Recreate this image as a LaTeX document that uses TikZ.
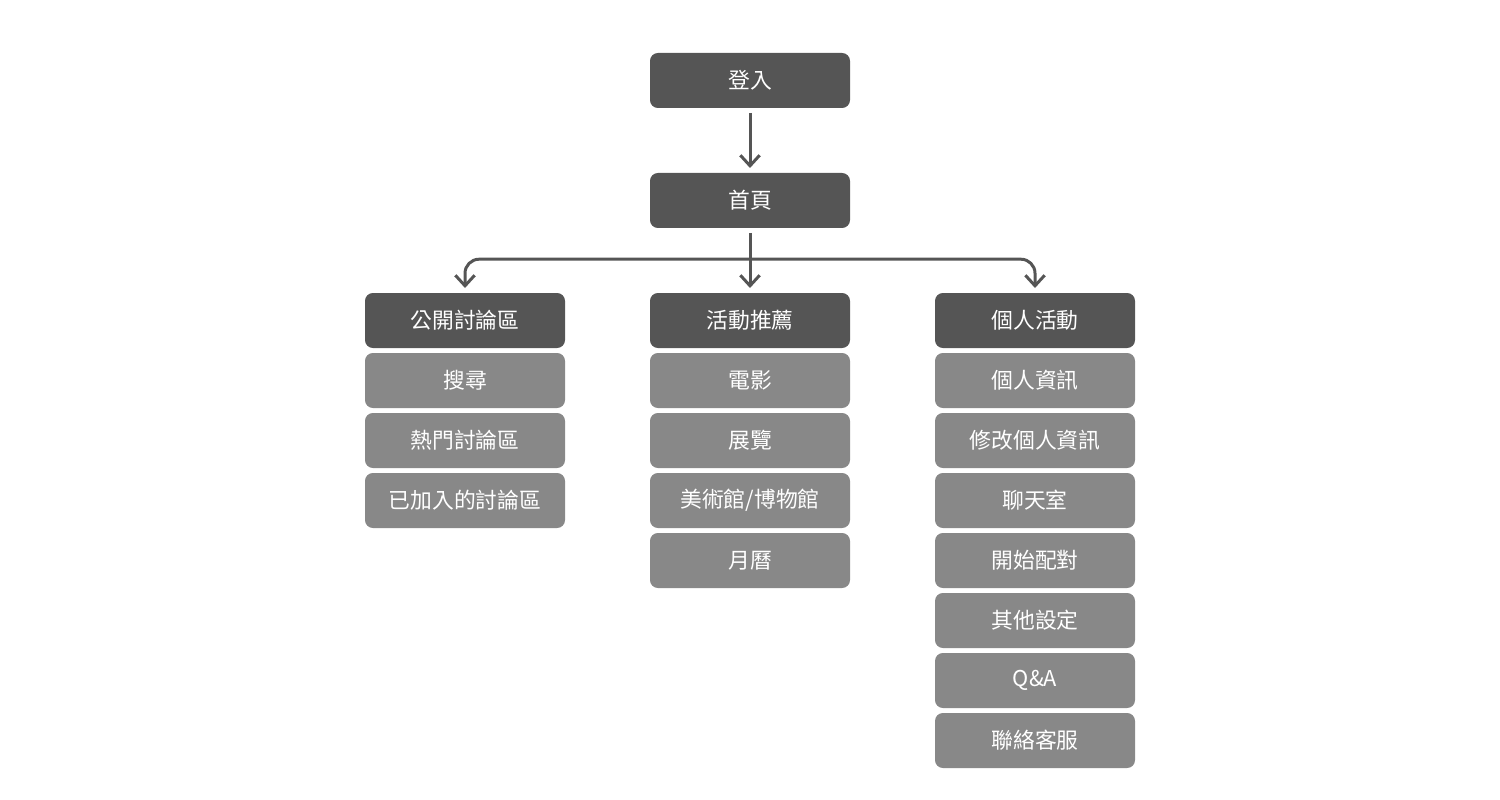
\documentclass[tikz,border=0pt]{standalone}
\usepackage{fontspec}
\setmainfont{Noto Sans CJK TC}
\usepackage{tikz}
\usetikzlibrary{positioning,arrows.meta,calc}
\definecolor{dark1}{HTML}{555555}
\definecolor{light1}{HTML}{888888}
\begin{document}
\begin{tikzpicture}[
    mbox/.style={rounded corners=4.5pt, minimum width=4cm, minimum height=1.1cm,
                 inner sep=0pt, outer sep=0pt, text=white,
                 font=\fontsize{12.4}{14}\selectfont},
    head/.style={mbox, fill=dark1},
    item/.style={mbox, fill=light1},
    arr/.style={-{Straight Barb[length=6pt,width=11pt]}, line width=1.7pt, draw=dark1,
                shorten <=0.1cm, shorten >=0.1cm},
]
\useasboundingbox (0,0) rectangle (30,-16);
\node[head] (login) at (15,-1.61) {登入};
\node[head, below=1.3cm of login] (home) {首頁};
\node[head, below=1.3cm of home] (act) {活動推薦};
\node[head, left=1.7cm of act] (pub) {公開討論區};
\node[head, right=1.7cm of act] (own) {個人活動};

% public forum
\node[item, below=0.1cm of pub] (search) {搜尋};
\node[item, below=0.1cm of search] (hot) {熱門討論區};
\node[item, below=0.1cm of hot] (joined) {已加入的討論區};

% events
\node[item, below=0.1cm of act] (movie) {電影};
\node[item, below=0.1cm of movie] (expo) {展覽};
\node[item, below=0.1cm of expo] (museum) {美術館/博物館};
\node[item, below=0.1cm of museum] (cal) {月曆};

% personal
\node[item, below=0.1cm of own] (info) {個人資訊};
\node[item, below=0.1cm of info] (edit) {修改個人資訊};
\node[item, below=0.1cm of edit] (chat) {聊天室};
\node[item, below=0.1cm of chat] (match) {開始配對};
\node[item, below=0.1cm of match] (setting) {其他設定};
\node[item, below=0.1cm of setting] (qa) {Q\&A};
\node[item, below=0.1cm of qa] (service) {聯絡客服};

\coordinate (split) at ($(home.south)!0.48!(act.north)$);
\draw[arr] (login) -- (home);
\draw[arr] (home) -- (act);
\draw[arr, shorten <=0pt, rounded corners=8pt] (split) -| (pub.north);
\draw[arr, shorten <=0pt, rounded corners=8pt] (split) -| (own.north);
\end{tikzpicture}
\end{document}
